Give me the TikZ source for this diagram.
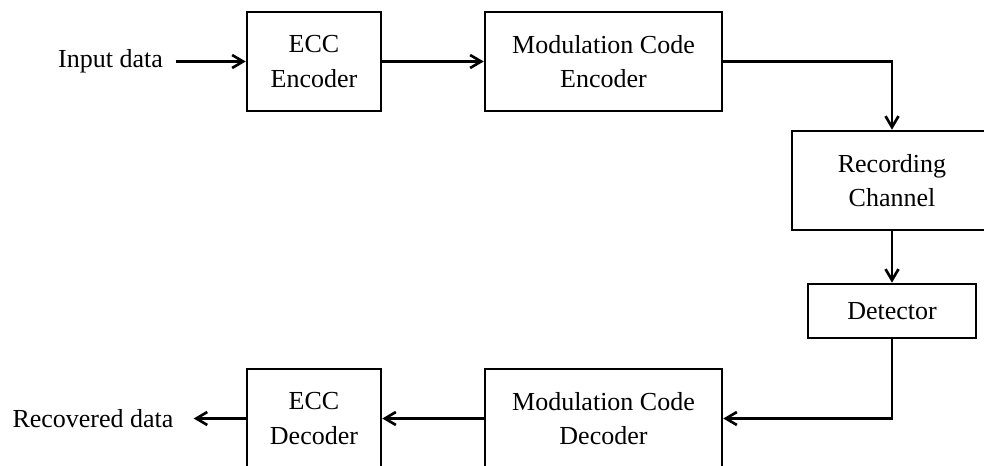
\documentclass[tikz,border=0pt]{standalone}
\usepackage{fontspec}
\setmainfont{Liberation Serif}
\usetikzlibrary{positioning,calc,arrows.meta}

\begin{document}
\begin{tikzpicture}[x=0.02cm,y=-0.02cm,
    blk/.style={draw,line width=1.5pt,inner sep=0pt,align=center,font=\fontsize{14.8}{19.5}\selectfont},
    lbl/.style={font=\fontsize{14.8}{19.5}\selectfont},
    flow/.style={line width=1.5pt,-{Straight Barb[length=2.2mm,width=2.6mm]}}]
  \useasboundingbox (0,0) rectangle (984,466);
  % blocks: name/x/y/width/height/text
  \def\blocks{%
    eccenc/314/61.5/2.68/1.98/{ECC\\Encoder},%
    modenc/603.5/61.5/4.74/1.98/{Modulation Code\\Encoder},%
    chan/892/180.5/4.0/1.98/{Recording\\Channel},%
    det/892/311/3.36/1.08/{Detector},%
    moddec/603.5/418.5/4.74/1.98/{Modulation Code\\Decoder},%
    eccdec/314/418.5/2.68/1.98/{ECC\\Decoder}%
  }
  \foreach \nm/\xx/\yy/\w/\h/\txt in \blocks {
    \node[blk,minimum width=\w cm,minimum height=\h cm] (\nm) at (\xx,\yy) {\txt};
  }
  \node[lbl] (indata) at (110.5,61.5) {Input data};
  \node[lbl] (recdata) at (93,418.5) {Recovered data};

  \draw[flow,shorten <=1.3mm] (indata) -- (eccenc);
  \draw[flow] (eccenc) -- (modenc);
  \draw[flow] (modenc.east) -| (chan.north);
  \draw[flow] (chan) -- (det);
  \draw[flow] (det.south) |- (moddec.east);
  \draw[flow] (moddec) -- (eccdec);
  \draw[flow,shorten >=2.8mm] (eccdec) -- (recdata);
\end{tikzpicture}
\end{document}
